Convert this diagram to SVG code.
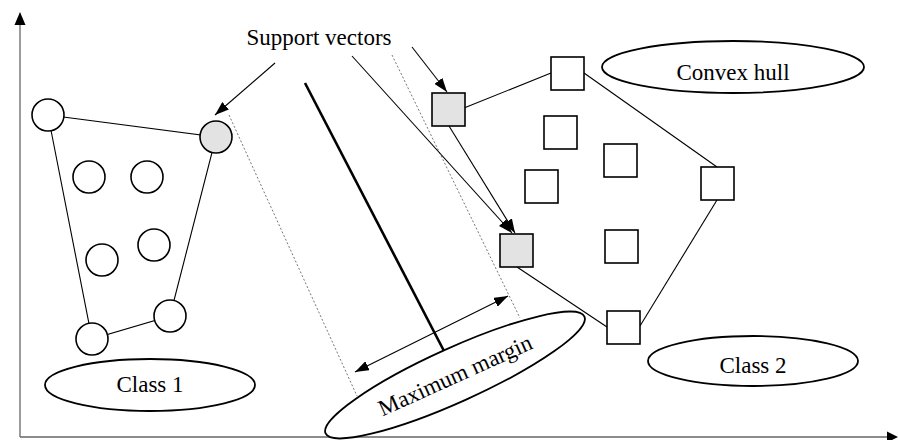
<svg xmlns="http://www.w3.org/2000/svg" width="898" height="440" viewBox="0 0 898 440">
<style>
  .pt { fill: #ffffff; stroke: #000; stroke-width: 1.6; }
  .sv { fill: #e3e3e3; stroke: #000; stroke-width: 1.6; }
  .hull { stroke: #000; stroke-width: 1.1; fill: none; }
  .arr { stroke: #000; stroke-width: 1.1; fill: none; marker-end: url(#ah); }
  .dot { stroke: #777; stroke-width: 1; stroke-dasharray: 2 2; fill: none; }
  .lbl { fill: #fff; stroke: #000; stroke-width: 1.8; }
  .txt { font-family: "Liberation Serif", "Times New Roman", serif; font-size: 23px; fill: #000; text-anchor: middle; }
  .axis { stroke: #666; stroke-width: 1.3; fill: none; }
</style>
<defs>
  <marker id="ah" markerUnits="userSpaceOnUse" markerWidth="14" markerHeight="10" refX="14" refY="5" orient="auto-start-reverse">
    <path d="M0,0 L14,5 L0,10 z" fill="#000"/>
  </marker>
</defs>
<rect width="898" height="440" fill="#fff"/>

<g id="axes">
  <line class="axis" x1="20" y1="437" x2="20" y2="22"/>
  <polygon points="20,12 14.5,25 25.5,25" fill="#000"/>
  <line class="axis" x1="20" y1="437" x2="889" y2="437"/>
  <polygon points="898,437 887,431.5 887,442.5" fill="#000"/>
</g>

<g id="connectors">
  <polyline class="hull" points="48,115 216,137 170,316 92,339 48,115"/>
  <line class="hull" x1="464" y1="108" x2="551" y2="73"/>
  <line class="hull" x1="584" y1="73" x2="717" y2="167"/>
  <line class="hull" x1="717" y1="200" x2="640" y2="326"/>
  <line class="hull" x1="607" y1="327" x2="517" y2="267"/>
  <line class="dot" x1="229" y1="115" x2="357" y2="396"/>
  <line class="dot" x1="392" y1="55" x2="520" y2="318"/>
  <line x1="305" y1="83" x2="444" y2="351" stroke="#000" stroke-width="2.6"/>
  <line class="arr" x1="355" y1="372" x2="508" y2="296" style="marker-start:url(#ah)"/>
  <line class="arr" x1="275" y1="63" x2="215" y2="115"/>
  <line class="arr" x1="412" y1="47" x2="447" y2="92"/>
  <line class="arr" x1="352" y1="56" x2="512" y2="233"/>
  <line class="arr" x1="449" y1="126" x2="515" y2="233"/>
</g>

<g id="class1">
  <circle class="pt" cx="48" cy="115" r="16"/>
  <circle class="sv" cx="216" cy="137" r="16"/>
  <circle class="pt" cx="89" cy="177" r="16"/>
  <circle class="pt" cx="147" cy="177" r="16"/>
  <circle class="pt" cx="102" cy="260" r="16"/>
  <circle class="pt" cx="154" cy="245" r="16"/>
  <circle class="pt" cx="170" cy="316" r="16"/>
  <circle class="pt" cx="92" cy="339" r="16"/>
</g>

<g id="class2">
  <rect class="sv" x="432" y="93" width="33" height="33"/>
  <rect class="pt" x="551" y="57" width="33" height="33"/>
  <rect class="pt" x="544" y="116" width="33" height="33"/>
  <rect class="pt" x="604" y="144" width="33" height="33"/>
  <rect class="pt" x="525" y="170" width="33" height="33"/>
  <rect class="pt" x="701" y="167" width="33" height="33"/>
  <rect class="sv" x="500" y="234" width="33" height="33"/>
  <rect class="pt" x="605" y="230" width="33" height="33"/>
  <rect class="pt" x="607" y="311" width="33" height="33"/>
</g>

<g id="support-vectors-label">
  <text class="txt" x="319" y="45">Support vectors</text>
</g>

<g id="convex-hull-label">
  <ellipse class="lbl" cx="733" cy="67" rx="131" ry="26"/>
  <text class="txt" x="733" y="80">Convex hull</text>
</g>

<g id="class1-label">
  <ellipse class="lbl" cx="150" cy="385" rx="105" ry="26"/>
  <text class="txt" x="150" y="392">Class 1</text>
</g>

<g id="class2-label">
  <ellipse class="lbl" cx="753" cy="361" rx="105" ry="25"/>
  <text class="txt" x="753" y="373">Class 2</text>
</g>

<g id="max-margin-label" transform="translate(455,375) rotate(-24.3)">
  <ellipse class="lbl" cx="0" cy="0" rx="142" ry="27"/>
  <text class="txt" x="0" y="8">Maximum margin</text>
</g>
</svg>
